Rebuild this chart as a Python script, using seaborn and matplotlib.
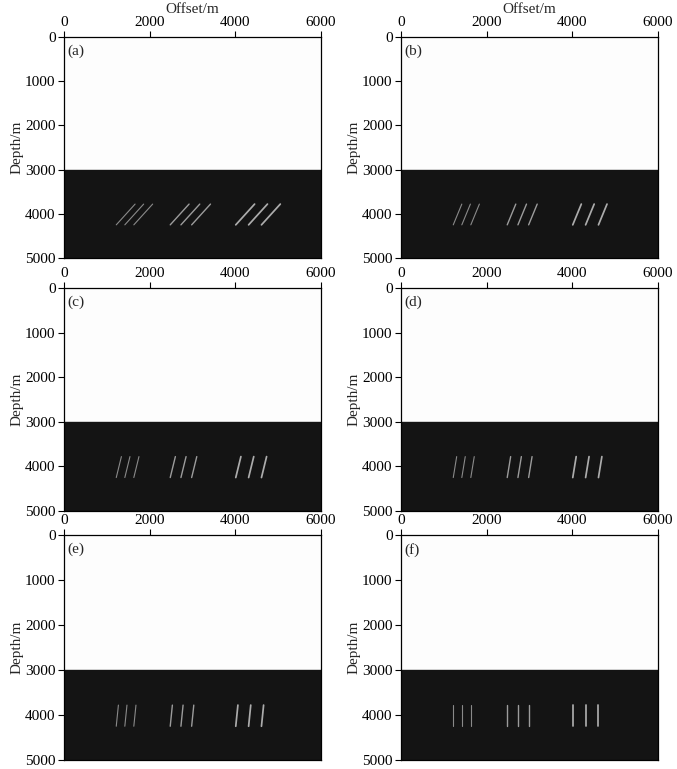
import pandas as pd
import matplotlib.pyplot as plt
import seaborn as sns
import numpy as np

# Datos del modelo
panel_labels = ['(a)', '(b)', '(c)', '(d)', '(e)', '(f)']
# desplazamiento horizontal de cada fractura (m) entre base y tope, por panel
fracture_shift = [440, 200, 120, 80, 50, 0]
# posición x de la base de cada fractura, por grupo
group_names = ['g1', 'g2', 'g3']
group_x = [[1220, 1420, 1630],
           [2480, 2730, 2980],
           [4010, 4310, 4610]]
fracture_top = 3780
fracture_bottom = 4250
layer_top = 3000
max_depth = 5000
max_offset = 6000
x_ticks = [0, 2000, 4000, 6000]
y_ticks = [0, 1000, 2000, 3000, 4000, 5000]

# Construir tabla de fracturas
rows = []
for p, shift in enumerate(fracture_shift):
    for g, xs in zip(group_names, group_x):
        for k, xb in enumerate(xs):
            fid = f'{p}_{g}_{k}'
            rows.append(dict(panel=p, group=g, frac=fid, x=xb, z=fracture_bottom))
            rows.append(dict(panel=p, group=g, frac=fid, x=xb + shift, z=fracture_top))
df = pd.DataFrame(rows)

sns.set_style('white')
plt.rcParams['font.family'] = ['Liberation Serif', 'DejaVu Serif']

fig = plt.figure(figsize=(6.77, 7.69), dpi=100)

lefts = [64 / 677, 401 / 677]
width = 257 / 677
row_px = [(37, 258), (288, 511), (535, 760)]

palette = {'g1': '#8a8a8a', 'g2': '#9c9c9c', 'g3': '#acacac'}
sizes = {'g1': 0.8, 'g2': 1.0, 'g3': 1.25}

for p in range(6):
    r, c = divmod(p, 2)
    top, bot = row_px[r]
    ax = fig.add_axes([lefts[c], 1 - bot / 769, width, (bot - top) / 769])
    ax.set_facecolor('#fdfdfd')
    ax.axhspan(layer_top, max_depth, color='#141414', zorder=0)

    sub = df[df['panel'] == p]
    sns.lineplot(data=sub, x='x', y='z', units='frac', estimator=None, sort=False,
                 hue='group', palette=palette, size='group', sizes=sizes,
                 legend=False, ax=ax)

    ax.set_xlim(0, max_offset)
    ax.set_ylim(max_depth, 0)
    ax.xaxis.tick_top()
    ax.xaxis.set_label_position('top')
    ax.set_xticks(x_ticks)
    ax.set_yticks(y_ticks)
    ax.tick_params(direction='out', length=4, width=0.8, labelsize=11, pad=2,
                   colors='black')
    ax.tick_params(axis='x', top=True, bottom=False)
    ax.tick_params(axis='y', left=True, right=False)
    for s in ax.spines.values():
        s.set_color('black')
        s.set_linewidth(0.9)

    if r == 0:
        ax.set_xlabel('Offset/m', fontsize=11, labelpad=2)
    else:
        ax.set_xlabel('')
    ax.set_ylabel('Depth/m', fontsize=11, labelpad=1)
    ax.text(0.015, 0.965, panel_labels[p], transform=ax.transAxes,
            fontsize=11, va='top', ha='left')

plt.savefig('out.png', dpi=100)
